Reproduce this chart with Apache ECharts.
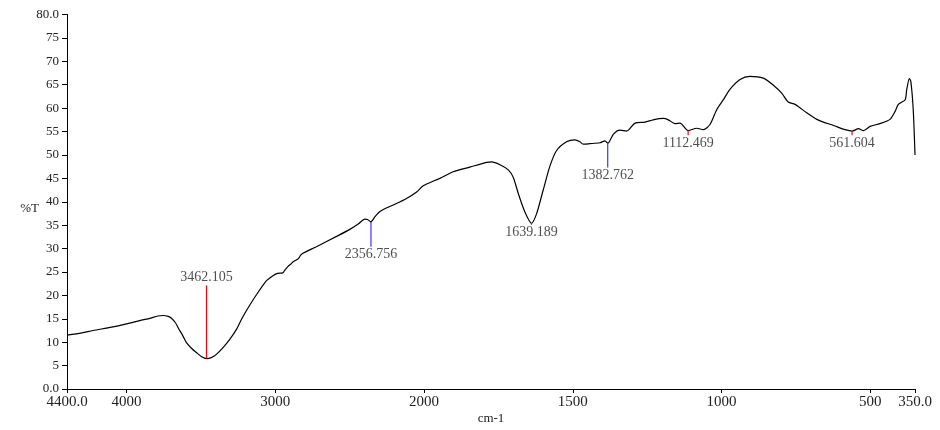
<!DOCTYPE html>
<html>
<head>
<meta charset="utf-8">
<script src="https://cdn.jsdelivr.net/npm/echarts@6/dist/echarts.min.js"></script>
<style>html,body{margin:0;padding:0;background:#fff;}#c{width:940px;height:430px;}</style>
</head>
<body>
<div id="c"></div>
<script>
// Spectrum: wavenumber (cm-1) and transmittance (%T)
const wavenumbers = [4400,4300,4225,4100,4000,3900,3844,3790,3754,3720,3698,3670,3653,3620,3597,3560,3530,3495,3462,3430,3396,3350,3306,3260,3227,3170,3104,3060,3015,2985,2950,2933,2914,2895,2880,2846,2824,2723,2588,2499,2440,2398,2380,2357,2330,2297,2250,2208,2118,2050,2006,1947,1902,1846,1790,1773,1745,1717,1700,1683,1661,1639,1622,1600,1577,1555,1521,1493,1476,1465,1443,1409,1392,1382,1364,1342,1319,1291,1257,1230,1196,1179,1157,1140,1112,1084,1061,1039,1016,994,972,938,905,860,826,798,776,753,714,680,658,624,585,561,540,523,501,468,434,417,406,383,378,369,364,356,350];
const transmittance = [11.5,12.0,12.5,13.2,13.9,14.7,15.1,15.6,15.7,15.5,15.1,14.1,13.1,11.3,9.9,8.6,7.8,6.9,6.5,6.7,7.4,8.9,10.6,12.8,14.9,18.0,21.2,23.1,24.2,24.7,24.8,25.5,26.2,26.7,27.2,27.8,28.8,30.4,32.6,34.1,35.3,36.3,36.2,35.7,36.8,37.9,38.7,39.3,40.7,42.1,43.4,45.0,46.4,47.4,48.4,48.5,47.9,46.8,45.2,41.7,37.8,35.4,37.4,42.4,47.6,50.9,52.8,53.2,52.8,52.3,52.4,52.6,53.0,52.5,54.4,55.3,55.1,56.8,57.0,57.5,57.8,57.5,56.7,56.8,55.2,55.7,55.4,56.5,59.7,61.8,64.0,66.1,66.8,66.4,64.9,63.2,61.3,60.8,59.0,57.6,57.0,56.3,55.4,55.1,55.6,55.2,56.1,56.7,57.6,59.3,60.8,61.8,63.9,66.3,65.7,59.7,50.0];

// Peak picks
const peakWn = [3462.105, 2356.756, 1639.189, 1382.762, 1112.469, 561.604];
const peakT = [6.5, 35.7, 35.4, 52.5, 55.2, 55.1];
const peakLineEndT = [22.1, 30.4, 35.1, 47.3, 54.2, 54.2];
const peakLabels = ['3462.105', '2356.756', '1639.189', '1382.762', '1112.469', '561.604'];

// Axis ticks
const xTickWn = [4400, 4000, 3000, 2000, 1500, 1000, 500, 350];
const xTickLabels = ['4400.0', '4000', '3000', '2000', '1500', '1000', '500', '350.0'];

const peakColors = ['#ff0000', '#3636ff', '#ff0000', '#3636ff', '#ff0000', '#ff0000'];

// Axis scale doubles below 2000 cm-1
function toT(x) { return x > 2000 ? 2000 + (x - 2000) / 2 : x; }
const xTickT = xTickWn.map(toT);

const spectrum = wavenumbers.map((w, i) => [toT(w), transmittance[i]]);

const series = [{
  type: 'line',
  data: spectrum,
  showSymbol: false,
  symbol: 'none',
  smooth: 0.25,
  lineStyle: { color: '#000', width: 1.2 },
  z: 3
}];

peakWn.forEach((w, i) => {
  const t = toT(w);
  series.push({
    type: 'line',
    data: [[t, peakT[i]], [t, peakLineEndT[i]]],
    symbol: 'none',
    lineStyle: { color: peakColors[i], width: 1.2 },
    z: 4
  });
  series.push({
    type: 'scatter',
    data: [[t, peakLineEndT[i]]],
    symbolSize: 0,
    label: {
      show: true,
      formatter: peakLabels[i],
      position: peakLineEndT[i] > peakT[i] ? 'top' : 'bottom',
      distance: 1,
      fontFamily: 'Liberation Serif',
      fontSize: 14,
      color: '#222'
    },
    z: 5
  });
});

const chart = echarts.init(document.getElementById('c'), null, { renderer: 'canvas' });
chart.setOption({
  animation: false,
  backgroundColor: '#fff',
  grid: { left: 67, right: 25, top: 14.5, bottom: 38, containLabel: false },
  xAxis: {
    type: 'value',
    min: 350,
    max: 3200,
    inverse: true,
    name: 'cm-1',
    nameLocation: 'middle',
    nameGap: 23,
    nameMoveOverlap: false,
    nameTextStyle: { fontFamily: 'Liberation Serif', fontSize: 13, color: '#222' },
    axisLine: { lineStyle: { color: '#000', width: 1 } },
    axisTick: { customValues: xTickT, length: 4, lineStyle: { color: '#000' } },
    axisLabel: {
      customValues: xTickT,
      margin: 6,
      fontFamily: 'Liberation Serif',
      fontSize: 15,
      color: '#222',
      formatter: function (v) {
        const idx = xTickT.findIndex(t => Math.abs(t - v) < 0.5);
        return idx >= 0 ? xTickLabels[idx] : '';
      }
    },
    splitLine: { show: false }
  },
  yAxis: {
    type: 'value',
    min: 0,
    max: 80,
    interval: 5,
    name: '%T',
    nameLocation: 'middle',
    nameRotate: 0,
    nameGap: 28,
    nameMoveOverlap: false,
    nameTextStyle: { fontFamily: 'Liberation Serif', fontSize: 13, color: '#222', verticalAlign: 'top', align: 'right' },
    axisLine: { show: true, lineStyle: { color: '#000', width: 1 } },
    axisTick: { show: true, length: 5, lineStyle: { color: '#000' } },
    axisLabel: {
      margin: 8,
      fontFamily: 'Liberation Serif',
      fontSize: 13,
      color: '#222',
      formatter: function (v) { return (v === 0 || v === 80) ? v.toFixed(1) : String(v); }
    },
    splitLine: { show: false }
  },
  series: series
});
</script>
</body>
</html>
